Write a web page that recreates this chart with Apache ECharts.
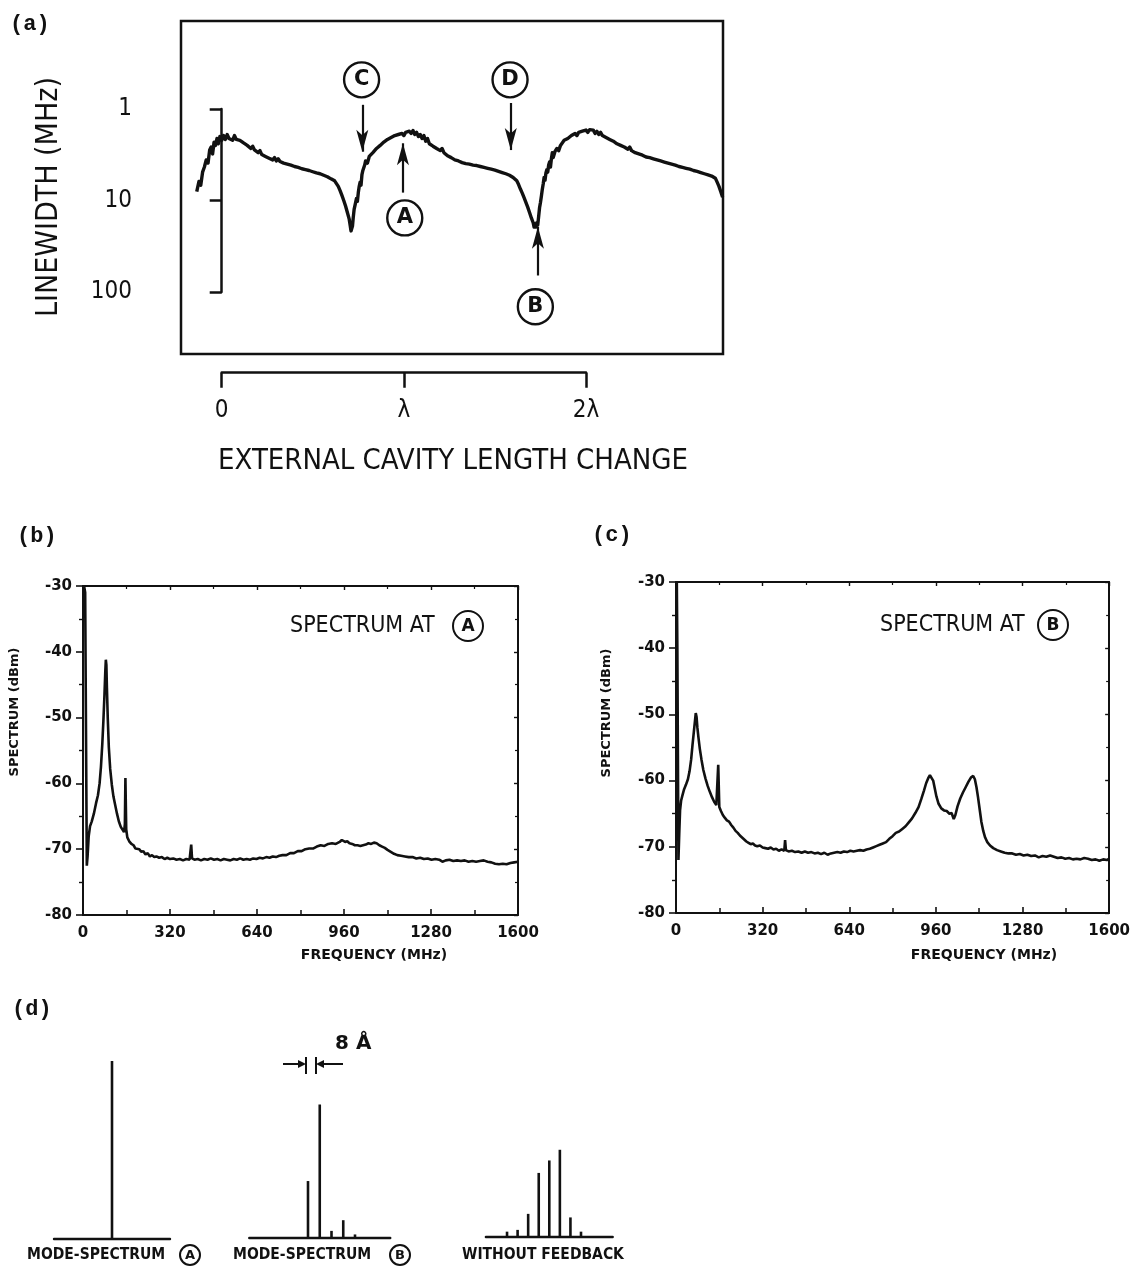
<!DOCTYPE html>
<html>
<head>
<meta charset="utf-8">
<script src="https://cdn.jsdelivr.net/npm/echarts@6/dist/echarts.min.js"></script>
<style>
  html, body { margin: 0; padding: 0; background: #fff; }
  #chart { width: 1133px; height: 1270px; }
</style>
</head>
<body>
<div id="chart"></div>
<script>
// ---------- data ----------
const lambdaTicks = ['0', 'λ', '2λ'];
const linewidthTicks = ['1', '10', '100'];

// (a) linewidth [MHz] versus external cavity length change [units of λ]
const linewidthTrace = [
  [-0.137, 8.0], [-0.125, 6.2], [-0.115, 6.8], [-0.105, 4.9], [-0.095, 4.3], [-0.085, 3.6], [-0.075, 3.9],
  [-0.066, 2.8], [-0.058, 2.6], [-0.05, 3.1], [-0.042, 2.3], [-0.034, 2.5], [-0.026, 2.1], [-0.018, 2.4],
  [-0.01, 2.0], [0.0, 2.2], [0.01, 1.95], [0.02, 2.15], [0.03, 1.9], [0.04, 2.1], [0.05, 2.0], [0.06, 2.2],
  [0.07, 1.95], [0.08, 2.15], [0.09, 2.05], [0.1, 2.2], [0.11, 2.1], [0.12, 2.35], [0.13, 2.25], [0.14, 2.5],
  [0.15, 2.4], [0.16, 2.7], [0.17, 2.55], [0.18, 2.8], [0.19, 2.7], [0.2, 3.0], [0.21, 2.85], [0.22, 3.15],
  [0.23, 3.0], [0.24, 3.3], [0.25, 3.2], [0.26, 3.45], [0.27, 3.3], [0.28, 3.6], [0.29, 3.4], [0.3, 3.7],
  [0.31, 3.5], [0.32, 3.75], [0.33, 3.6], [0.34, 3.9], [0.35, 3.75], [0.36, 4.0], [0.37, 3.85], [0.38, 4.1],
  [0.39, 3.9], [0.40, 4.25], [0.41, 4.1], [0.42, 4.35], [0.43, 4.2], [0.44, 4.5], [0.45, 4.3], [0.46, 4.6],
  [0.47, 4.45], [0.48, 4.7], [0.49, 4.55], [0.5, 4.85], [0.51, 4.7], [0.52, 5.0], [0.53, 4.8], [0.54, 5.1],
  [0.55, 4.9], [0.56, 5.3], [0.57, 5.1], [0.58, 5.5], [0.59, 5.3], [0.6, 5.8], [0.61, 5.6], [0.62, 6.1],
  [0.63, 6.4], [0.64, 7.0], [0.65, 7.8], [0.66, 8.8], [0.67, 10.0], [0.68, 11.5], [0.69, 13.5], [0.70, 16.0],
  [0.705, 18.5], [0.71, 21.5], [0.714, 22.5], [0.718, 19.0], [0.722, 15.5], [0.727, 12.5], [0.733, 11.0],
  [0.74, 9.5], [0.745, 10.2], [0.75, 8.2], [0.755, 7.0], [0.76, 6.3], [0.765, 6.8], [0.77, 5.2], [0.775, 4.7],
  [0.78, 4.9], [0.785, 4.1], [0.79, 3.7], [0.8, 3.9], [0.81, 3.3], [0.82, 3.4], [0.83, 3.0], [0.84, 2.9],
  [0.85, 2.7], [0.86, 2.75], [0.87, 2.5], [0.88, 2.45], [0.89, 2.3], [0.9, 2.35], [0.91, 2.15], [0.92, 2.25],
  [0.93, 2.05], [0.94, 2.1], [0.95, 1.95], [0.96, 2.05], [0.97, 1.9], [0.98, 1.95], [0.99, 1.85], [1.0, 1.95],
  [1.01, 1.8], [1.02, 1.85], [1.03, 1.75], [1.04, 1.85], [1.05, 1.72], [1.06, 1.9], [1.07, 1.8], [1.08, 2.0],
  [1.09, 1.9], [1.1, 2.1], [1.11, 1.95], [1.12, 2.25], [1.13, 2.1], [1.14, 2.4], [1.15, 2.3], [1.16, 2.55],
  [1.17, 2.45], [1.18, 2.7], [1.19, 2.6], [1.2, 2.85], [1.21, 2.7], [1.22, 3.0], [1.23, 2.9], [1.24, 3.25],
  [1.25, 3.1], [1.26, 3.4], [1.27, 3.3], [1.28, 3.6], [1.29, 3.45], [1.3, 3.7], [1.31, 3.6], [1.32, 3.85],
  [1.33, 3.7], [1.34, 3.95], [1.35, 3.8], [1.36, 4.0], [1.37, 3.9], [1.38, 4.1], [1.39, 3.95], [1.4, 4.15],
  [1.41, 4.0], [1.42, 4.25], [1.43, 4.1], [1.44, 4.35], [1.45, 4.2], [1.46, 4.45], [1.47, 4.3], [1.48, 4.55],
  [1.49, 4.4], [1.5, 4.65], [1.51, 4.5], [1.52, 4.8], [1.53, 4.65], [1.54, 4.95], [1.55, 4.8], [1.56, 5.1],
  [1.57, 4.95], [1.58, 5.3], [1.59, 5.15], [1.6, 5.6], [1.61, 5.5], [1.62, 6.1], [1.63, 6.7], [1.64, 7.5],
  [1.65, 8.3], [1.66, 9.3], [1.67, 10.5], [1.68, 11.8], [1.69, 13.5], [1.70, 15.5], [1.71, 17.5], [1.715, 19.5],
  [1.72, 18.0], [1.725, 19.5], [1.73, 17.5], [1.735, 18.5], [1.74, 15.0], [1.745, 12.0], [1.75, 10.5],
  [1.755, 9.0], [1.76, 7.6], [1.765, 6.6], [1.77, 5.6], [1.775, 6.0], [1.78, 5.0], [1.785, 4.6], [1.79, 4.9],
  [1.795, 4.1], [1.8, 3.8], [1.805, 4.3], [1.81, 3.5], [1.815, 3.0], [1.82, 3.4], [1.83, 2.9], [1.84, 2.7],
  [1.85, 2.85], [1.86, 2.5], [1.87, 2.45], [1.88, 2.2], [1.89, 2.3], [1.9, 2.1], [1.91, 2.15], [1.92, 1.95],
  [1.93, 2.05], [1.94, 1.85], [1.95, 1.95], [1.96, 1.8], [1.97, 1.85], [1.98, 1.75], [1.99, 1.8], [2.0, 1.7],
  [2.01, 1.8], [2.02, 1.68], [2.03, 1.75], [2.04, 1.7], [2.05, 1.85], [2.06, 1.75], [2.07, 1.9], [2.08, 1.8],
  [2.09, 1.95], [2.1, 1.9], [2.11, 2.05], [2.12, 1.95], [2.13, 2.15], [2.14, 2.05], [2.15, 2.25], [2.16, 2.15],
  [2.17, 2.4], [2.18, 2.3], [2.19, 2.5], [2.2, 2.4], [2.21, 2.6], [2.22, 2.5], [2.23, 2.75], [2.24, 2.6],
  [2.25, 2.85], [2.26, 2.75], [2.27, 3.0], [2.28, 2.9], [2.29, 3.1], [2.3, 3.0], [2.31, 3.2], [2.32, 3.1],
  [2.33, 3.35], [2.34, 3.2], [2.35, 3.4], [2.36, 3.3], [2.37, 3.5], [2.38, 3.4], [2.39, 3.6], [2.4, 3.45],
  [2.41, 3.7], [2.42, 3.55], [2.43, 3.8], [2.44, 3.65], [2.45, 3.9], [2.46, 3.75], [2.47, 4.0], [2.48, 3.85],
  [2.49, 4.1], [2.5, 3.95], [2.51, 4.25], [2.52, 4.1], [2.53, 4.35], [2.54, 4.2], [2.55, 4.45], [2.56, 4.3],
  [2.57, 4.55], [2.58, 4.4], [2.59, 4.7], [2.6, 4.55], [2.61, 4.8], [2.62, 4.65], [2.63, 4.95], [2.64, 4.8],
  [2.65, 5.1], [2.66, 4.95], [2.67, 5.25], [2.68, 5.1], [2.69, 5.4], [2.70, 5.3], [2.71, 5.7], [2.72, 6.3],
  [2.73, 7.0], [2.74, 8.0], [2.75, 9.2]
];

// circled markers and their pointer arrows in (a): [λ, MHz]
const pointLabels = [
  { name: 'C', value: [0.768, 0.48] },
  { name: 'D', value: [1.583, 0.48] },
  { name: 'A', value: [1.005, 15.5] },
  { name: 'B', value: [1.722, 145] }
];
const pointerArrows = [
  { coords: [[0.772, 0.90], [0.772, 2.93]] },
  { coords: [[1.587, 0.86], [1.587, 2.81]] },
  { coords: [[0.995, 8.2], [0.995, 2.37]] },
  { coords: [[1.736, 66], [1.736, 19.3]] }
];

// (b) RF spectrum at A: [MHz, dBm]
const spectrumAtA = [
  [4, -30], [8, -31], [11, -52], [14, -72.5], [17, -71], [21, -68], [26, -66.5], [32, -65.8], [40, -64.6],
  [48, -63], [55, -61.8], [61, -60], [66, -57.5], [71, -54], [75, -50.5], [79, -46.5], [82, -43], [84, -41.2],
  [86, -42], [88, -45.5], [91, -50], [95, -54.5], [100, -57.8], [106, -60.2], [112, -62], [118, -63.2],
  [125, -64.6], [132, -65.8], [139, -66.6], [146, -66.8], [151, -67.4], [154, -66.2], [156, -59.2],
  [158, -59.2], [159, -67], [163, -68.2], [170, -68.8], [178, -69.2], [186, -69.4], [193, -69.9], [200, -70.2],
  [207, -70], [214, -70.4], [222, -70.3], [230, -70.8], [238, -70.6], [246, -71.1], [254, -70.9], [262, -71.2],
  [270, -71.1], [280, -71.3], [290, -71.2], [300, -71.5], [310, -71.3], [320, -71.5], [332, -71.4],
  [344, -71.6], [356, -71.5], [368, -71.7], [380, -71.5], [392, -71.6], [396, -71.5], [398, -69.3],
  [401, -71.4], [410, -71.6], [422, -71.5], [434, -71.7], [446, -71.5], [458, -71.6], [470, -71.4],
  [482, -71.6], [494, -71.5], [506, -71.7], [518, -71.5], [530, -71.6], [542, -71.7], [554, -71.5],
  [566, -71.6], [578, -71.4], [590, -71.6], [602, -71.5], [614, -71.6], [626, -71.4], [638, -71.5],
  [650, -71.3], [662, -71.4], [674, -71.2], [686, -71.3], [698, -71.1], [710, -71.2], [722, -71.0],
  [734, -70.9], [748, -70.9], [762, -70.6], [776, -70.6], [790, -70.3], [804, -70.3], [818, -70.0],
  [832, -69.9], [846, -69.9], [860, -69.6], [874, -69.4], [888, -69.5], [902, -69.2], [916, -69.1],
  [930, -69.2], [944, -68.9], [952, -68.6], [958, -68.5], [964, -68.9], [972, -68.8], [980, -69.1],
  [990, -69.2], [1000, -69.4], [1010, -69.4], [1020, -69.5], [1030, -69.4], [1040, -69.3], [1050, -69.1],
  [1060, -69.2], [1070, -69.0], [1080, -69.1], [1090, -69.4], [1100, -69.6], [1110, -69.8], [1120, -70.1],
  [1132, -70.4], [1144, -70.7], [1156, -70.9], [1170, -71.0], [1184, -71.1], [1198, -71.2], [1212, -71.2],
  [1226, -71.4], [1240, -71.3], [1254, -71.5], [1268, -71.4], [1282, -71.6], [1296, -71.5], [1310, -71.6],
  [1322, -71.9], [1334, -71.7], [1348, -71.6], [1362, -71.8], [1376, -71.7], [1390, -71.8], [1404, -71.7],
  [1418, -71.9], [1432, -71.8], [1446, -71.9], [1460, -71.8], [1474, -71.7], [1488, -71.9], [1502, -72.0],
  [1516, -72.2], [1530, -72.3], [1544, -72.2], [1558, -72.3], [1572, -72.1], [1586, -72.0], [1600, -71.9]
];

// (c) RF spectrum at B: [MHz, dBm]
const spectrumAtB = [
  [3, -30], [5, -40], [7, -56], [9, -72], [12, -68], [15, -64.5], [19, -63], [24, -62.2], [30, -61.3],
  [37, -60.6], [44, -59.8], [50, -58.6], [56, -56.8], [61, -54.6], [66, -52.6], [70, -51], [73, -49.8],
  [76, -50.4], [79, -52], [83, -53.5], [88, -55.2], [94, -56.8], [101, -58.4], [109, -59.7], [117, -60.8],
  [125, -61.7], [133, -62.5], [141, -63.2], [149, -63.7], [154, -63.9], [156, -57.6], [159, -57.6],
  [160, -64], [166, -64.6], [173, -65.2], [180, -65.6], [188, -66], [196, -66.2], [204, -66.7], [212, -67.1],
  [220, -67.6], [228, -67.9], [236, -68.3], [244, -68.6], [252, -68.9], [260, -69.2], [268, -69.4],
  [276, -69.6], [284, -69.5], [292, -69.8], [300, -69.9], [310, -69.8], [320, -70.1], [330, -70.2],
  [340, -70.3], [350, -70.1], [360, -70.4], [370, -70.3], [380, -70.6], [390, -70.4], [400, -70.6],
  [403, -69.0], [406, -70.5], [416, -70.7], [428, -70.6], [440, -70.8], [452, -70.7], [464, -70.9],
  [476, -70.7], [488, -70.9], [500, -70.8], [512, -71.0], [524, -70.9], [536, -71.1], [548, -70.9],
  [560, -71.2], [572, -71.0], [584, -70.9], [596, -70.8], [608, -70.9], [620, -70.7], [632, -70.8],
  [644, -70.6], [656, -70.7], [668, -70.6], [680, -70.5], [692, -70.6], [704, -70.4], [716, -70.3],
  [728, -70.1], [740, -69.9], [752, -69.7], [764, -69.5], [776, -69.3], [788, -68.8], [800, -68.4],
  [812, -67.9], [824, -67.7], [836, -67.3], [848, -66.9], [860, -66.3], [872, -65.7], [884, -64.9],
  [896, -64.0], [906, -62.8], [916, -61.5], [924, -60.4], [932, -59.6], [938, -59.2], [944, -59.3],
  [950, -60.0], [956, -61.2], [962, -62.4], [970, -63.5], [980, -64.2], [990, -64.5], [1000, -64.6],
  [1010, -65.0], [1018, -64.9], [1026, -65.8], [1032, -65.2], [1040, -63.9], [1050, -62.7], [1060, -61.8],
  [1070, -61.0], [1080, -60.2], [1090, -59.5], [1098, -59.3], [1104, -59.8], [1110, -61.0], [1116, -62.6],
  [1122, -64.4], [1128, -66.2], [1135, -67.6], [1142, -68.6], [1150, -69.3], [1160, -69.8], [1172, -70.2],
  [1186, -70.5], [1200, -70.7], [1214, -70.9], [1228, -71.0], [1242, -71.0], [1256, -71.2], [1270, -71.1],
  [1284, -71.3], [1298, -71.2], [1312, -71.4], [1326, -71.3], [1340, -71.6], [1354, -71.4], [1368, -71.5],
  [1382, -71.3], [1396, -71.5], [1410, -71.7], [1424, -71.6], [1438, -71.8], [1452, -71.7], [1466, -71.9],
  [1480, -71.8], [1494, -71.9], [1508, -71.7], [1522, -71.8], [1536, -72.0], [1550, -71.9], [1564, -72.1],
  [1578, -71.9], [1592, -72.0], [1600, -71.8]
];

// (d) optical mode spectra: [mode number, relative intensity]
const modeSpectrumA = [[0, 1.0]];
const modeSpectrumB = [[0, 0.32], [1, 0.75], [2, 0.04], [3, 0.10], [4, 0.02]];
const modesWithoutFeedback = [[0, 0.03], [1, 0.04], [2, 0.13], [3, 0.36], [4, 0.43], [5, 0.49], [6, 0.11], [7, 0.03]];

// ---------- layout ----------
const INK = '#111';
const PLOT_FONT = "'DejaVu Sans Condensed', 'DejaVu Sans', sans-serif";
const BOLD_FONT = "'DejaVu Sans', sans-serif";
const PANEL_FONT = "'Liberation Mono', 'DejaVu Sans Mono', monospace";

// panel (a): the bracket scale and the frame around the trace
const scaleGrid = { left: 221.7, top: 109, width: 364.3, height: 183 };
const frameGrid = { left: 181, top: 21, width: 542, height: 333 };
const pxPerLambda = scaleGrid.width / 2;
const pxPerDecade = scaleGrid.height / 2;
// the frame axes continue the bracket scale across the whole frame
const frameX = [
  (frameGrid.left - scaleGrid.left) / pxPerLambda,
  (frameGrid.left + frameGrid.width - scaleGrid.left) / pxPerLambda
];
const frameY = [
  Math.pow(10, (frameGrid.top - scaleGrid.top) / pxPerDecade),
  Math.pow(10, (frameGrid.top + frameGrid.height - scaleGrid.top) / pxPerDecade)
];

const gridB = { left: 83, top: 586, width: 435, height: 329 };
const gridC = { left: 676, top: 582, width: 436, height: 331 };
const MODE_H = 178;
const gridModeA = { left: 54, top: 1239 - MODE_H, width: 116, height: MODE_H };
const gridModeB = { left: 249.25, top: 1238 - MODE_H, width: 141, height: MODE_H };
const gridModeW = { left: 485.9, top: 1237 - MODE_H, width: 126.8, height: MODE_H };

function spectrumX(gridIndex) {
  const common = {
    gridIndex, type: 'value', min: 0, max: 1600, interval: 320,
    splitLine: { show: false }, minorSplitLine: { show: false },
    axisLine: { onZero: false, lineStyle: { color: INK, width: 2 } },
    minorTick: { show: true, splitNumber: 2, length: 5, lineStyle: { color: INK, width: 1.5 } }
  };
  return [
    Object.assign({}, common, {
      position: 'bottom',
      axisTick: { inside: true, length: 6, lineStyle: { color: INK, width: 1.6 } },
      axisLabel: {
        margin: 11, color: INK, fontSize: 15, fontWeight: 'bold', fontFamily: BOLD_FONT,
        formatter: (v) => String(v)
      }
    }),
    Object.assign({}, common, {
      position: 'top',
      axisTick: { inside: true, length: 4, lineStyle: { color: INK, width: 1.4 } },
      minorTick: { show: true, splitNumber: 2, length: 3, lineStyle: { color: INK, width: 1.2 } },
      axisLabel: { show: false }
    })
  ];
}
function spectrumY(gridIndex) {
  const common = {
    gridIndex, type: 'value', min: -80, max: -30, interval: 10,
    splitLine: { show: false }, minorSplitLine: { show: false },
    axisLine: { onZero: false, lineStyle: { color: INK, width: 2 } }
  };
  return [
    Object.assign({}, common, {
      position: 'left',
      axisTick: { inside: false, length: 7, lineStyle: { color: INK, width: 1.6 } },
      minorTick: { show: true, splitNumber: 2, length: 4, lineStyle: { color: INK, width: 1.4 } },
      axisLabel: { margin: 11, color: INK, fontSize: 15, fontWeight: 'bold', fontFamily: BOLD_FONT }
    }),
    Object.assign({}, common, {
      position: 'right',
      axisTick: { inside: true, length: 4, lineStyle: { color: INK, width: 1.4 } },
      minorTick: { show: true, splitNumber: 2, length: 3, lineStyle: { color: INK, width: 1.2 } },
      axisLabel: { show: false }
    })
  ];
}
function modeX(gridIndex, min, max) {
  return {
    gridIndex, type: 'value', min, max,
    axisLine: { onZero: false, lineStyle: { color: INK, width: 2.4 } },
    axisTick: { show: false }, axisLabel: { show: false }, splitLine: { show: false }
  };
}
function modeY(gridIndex) {
  return { gridIndex, type: 'value', min: 0, max: 1, show: false, splitLine: { show: false } };
}

function txt(x, y, text, opts) {
  const o = opts || {};
  return {
    type: 'text', x, y, rotation: o.rotation || 0, z: 50,
    style: {
      text, fill: INK,
      font: (o.weight || 'normal') + ' ' + (o.size || 16) + 'px ' + (o.family || PLOT_FONT),
      align: o.align || 'left', verticalAlign: 'middle',
      textAlign: o.align || 'left', textVerticalAlign: 'middle'
    }
  };
}
function circledLetter(cx, cy, r, letter, size) {
  return [
    { type: 'circle', z: 50, shape: { cx, cy, r }, style: { fill: '#fff', stroke: INK, lineWidth: 2 } },
    txt(cx, cy + 0.5, letter, { size, weight: 'bold', family: BOLD_FONT, align: 'center' })
  ];
}
function seg(x1, y1, x2, y2, w) {
  return { type: 'line', z: 50, shape: { x1, y1, x2, y2 }, style: { stroke: INK, lineWidth: w || 2 } };
}
function head(points) {
  return { type: 'polygon', z: 50, shape: { points }, style: { fill: INK } };
}

const option = {
  backgroundColor: '#fff',
  animation: false,
  grid: [
    Object.assign({}, scaleGrid),
    Object.assign({ show: true, borderColor: INK, borderWidth: 2.5, backgroundColor: 'transparent' }, frameGrid),
    gridB, gridC, gridModeA, gridModeB, gridModeW
  ],
  xAxis: [
    {
      gridIndex: 0, type: 'value', min: 0, max: 2, interval: 1, position: 'bottom', offset: 80.7,
      axisLine: { onZero: false, lineStyle: { color: INK, width: 2.5 } },
      axisTick: { inside: false, length: 15, lineStyle: { color: INK, width: 2.5 } },
      axisLabel: {
        margin: 26, color: INK, fontSize: 24, fontFamily: PLOT_FONT,
        formatter: (v) => lambdaTicks[Math.round(v)]
      },
      splitLine: { show: false }
    },
    { gridIndex: 1, type: 'value', min: frameX[0], max: frameX[1], show: false, splitLine: { show: false } },
    ...spectrumX(2), ...spectrumX(3),
    modeX(4, -5, 5), modeX(5, -5, 7), modeX(6, -2, 10)
  ],
  yAxis: [
    {
      gridIndex: 0, type: 'log', logBase: 10, min: 1, max: 100, inverse: true, position: 'left', offset: 61.7,
      axisLine: { lineStyle: { color: INK, width: 2.5 } },
      axisTick: { inside: false, length: 12, lineStyle: { color: INK, width: 2.5 } },
      axisLabel: {
        margin: 28, color: INK, fontSize: 24, fontFamily: PLOT_FONT,
        formatter: (v) => linewidthTicks[Math.round(Math.log10(v))]
      },
      splitLine: { show: false }, minorSplitLine: { show: false }
    },
    {
      gridIndex: 1, type: 'log', logBase: 10, min: frameY[0], max: frameY[1], inverse: true,
      show: false, splitLine: { show: false }
    },
    ...spectrumY(2), ...spectrumY(3),
    modeY(4), modeY(5), modeY(6)
  ],
  series: [
    {
      name: 'linewidth', type: 'line', xAxisIndex: 1, yAxisIndex: 1, data: linewidthTrace,
      symbol: 'none', lineStyle: { color: INK, width: 3.4, join: 'round' }, z: 3
    },
    {
      name: 'pointers', type: 'lines', coordinateSystem: 'cartesian2d', xAxisIndex: 1, yAxisIndex: 1,
      data: pointerArrows, symbol: ['none', 'arrow'], symbolSize: [1, [9, 22]],
      lineStyle: { color: INK, width: 2.2, opacity: 1, curveness: 0 }, z: 4, silent: true
    },
    {
      name: 'markers', type: 'scatter', xAxisIndex: 1, yAxisIndex: 1, data: pointLabels,
      symbol: 'circle', symbolSize: 35,
      itemStyle: { color: '#fff', borderColor: INK, borderWidth: 2.4, opacity: 1 },
      label: { show: true, position: 'inside', formatter: '{b}', color: INK, fontSize: 21, fontWeight: 'bold', fontFamily: BOLD_FONT },
      z: 5, silent: true
    },
    {
      name: 'spectrum A', type: 'line', xAxisIndex: 2, yAxisIndex: 2, data: spectrumAtA,
      symbol: 'none', lineStyle: { color: INK, width: 2.6 }
    },
    {
      name: 'spectrum B', type: 'line', xAxisIndex: 4, yAxisIndex: 4, data: spectrumAtB,
      symbol: 'none', lineStyle: { color: INK, width: 2.6 }
    },
    {
      name: 'mode spectrum A', type: 'bar', xAxisIndex: 6, yAxisIndex: 6, data: modeSpectrumA,
      barWidth: 2.6, itemStyle: { color: INK }
    },
    {
      name: 'mode spectrum B', type: 'bar', xAxisIndex: 7, yAxisIndex: 7, data: modeSpectrumB,
      barWidth: 2.6, itemStyle: { color: INK }
    },
    {
      name: 'without feedback', type: 'bar', xAxisIndex: 8, yAxisIndex: 8, data: modesWithoutFeedback,
      barWidth: 2.6, itemStyle: { color: INK }
    }
  ],
  graphic: [
    // panel letters
    txt(10, 24, '(a)', { size: 22, weight: 'bold', family: PANEL_FONT }),
    txt(17, 536, '(b)', { size: 22, weight: 'bold', family: PANEL_FONT }),
    txt(592, 535, '(c)', { size: 22, weight: 'bold', family: PANEL_FONT }),
    txt(12, 1009, '(d)', { size: 22, weight: 'bold', family: PANEL_FONT }),
    // (a) titles
    txt(49, 197, 'LINEWIDTH (MHz)', { size: 30, align: 'center', rotation: Math.PI / 2 }),
    txt(453, 461, 'EXTERNAL CAVITY LENGTH CHANGE', { size: 29, align: 'center' }),
    // (b) titles
    txt(15, 712, 'SPECTRUM (dBm)', { size: 13, weight: 'bold', family: BOLD_FONT, align: 'center', rotation: Math.PI / 2 }),
    txt(374, 955, 'FREQUENCY (MHz)', { size: 14, weight: 'bold', family: BOLD_FONT, align: 'center' }),
    txt(290, 626, 'SPECTRUM AT', { size: 23 }),
    ...circledLetter(468, 626, 15, 'A', 17),
    // (c) titles
    txt(607, 713, 'SPECTRUM (dBm)', { size: 13, weight: 'bold', family: BOLD_FONT, align: 'center', rotation: Math.PI / 2 }),
    txt(984, 955, 'FREQUENCY (MHz)', { size: 14, weight: 'bold', family: BOLD_FONT, align: 'center' }),
    txt(880, 625, 'SPECTRUM AT', { size: 23 }),
    ...circledLetter(1053, 625, 15, 'B', 17),
    // (d) captions
    txt(27, 1255, 'MODE-SPECTRUM', { size: 15.5, weight: 'bold' }),
    ...circledLetter(190, 1255, 10, 'A', 13),
    txt(233, 1255, 'MODE-SPECTRUM', { size: 15.5, weight: 'bold' }),
    ...circledLetter(400, 1255, 10, 'B', 13),
    txt(462, 1255, 'WITHOUT FEEDBACK', { size: 15.5, weight: 'bold' }),
    // mode spacing marker
    txt(335, 1044, '8 Å', { size: 20, weight: 'bold', family: BOLD_FONT }),
    seg(283, 1064, 300, 1064, 2), head([[306, 1064], [298, 1060], [298, 1068]]),
    seg(306, 1057, 306, 1074, 2), seg(316, 1057, 316, 1074, 2),
    head([[316, 1064], [324, 1060], [324, 1068]]), seg(322, 1064, 343, 1064, 2)
  ]
};

const chart = echarts.init(document.getElementById('chart'));
chart.setOption(option);
</script>
</body>
</html>
